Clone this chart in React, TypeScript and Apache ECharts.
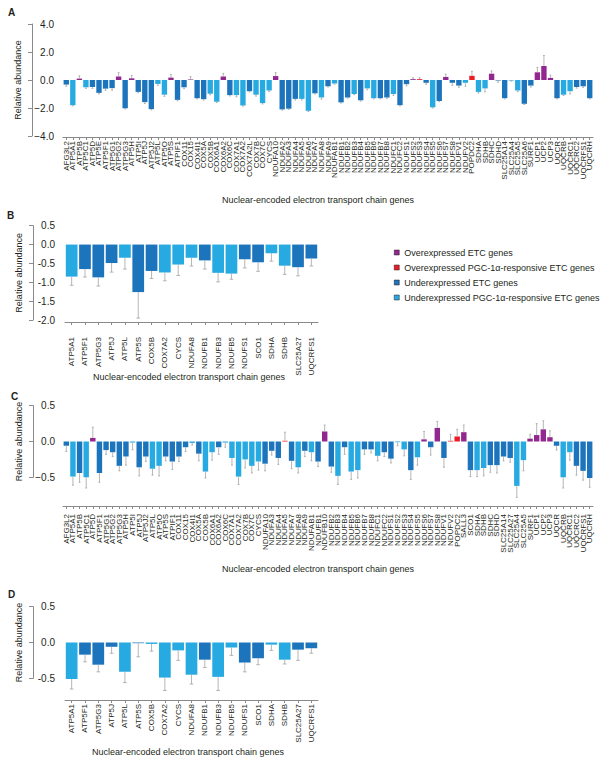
import React, { useEffect, useRef } from "react";
import * as echarts from "echarts";

const GROUP_KEYS = ["O", "R", "U", "P"];
const GROUP_NAMES: Record<string, string> = {
  O: "Overexpressed ETC genes",
  R: "Overexpressed PGC-1α-responsive ETC genes",
  U: "Underexpressed ETC genes",
  P: "Underexpressed PGC-1α-responsive ETC genes",
};
const GROUP_COLORS: Record<string, string> = {
  O: "#92278F",
  R: "#ED1C24",
  U: "#1C75BC",
  P: "#27AAE1",
};

// ---------- Panel A ----------
const catsA = [
  "AFG3L2", "ATP5A1", "ATP5B", "ATP5C1", "ATP5D", "ATP5E", "ATP5F1", "ATP5G1", "ATP5G2", "ATP5G3",
  "ATP5H", "ATP5I", "ATP5J", "ATP5J2", "ATP5L", "ATP5O", "ATP5S", "ATPIF1", "COX11", "COX15",
  "COX4I1", "COX5A", "COX5B", "COX6A1", "COX6A2", "COX6C", "COX7A1", "COX7A2", "COX7A2L", "COX7B",
  "COX7C", "CYCS", "NDUFA10", "NDUFA2", "NDUFA3", "NDUFA4", "NDUFA5", "NDUFA6", "NDUFA7", "NDUFA8",
  "NDUFA9", "NDUFAB1", "NDUFB1", "NDUFB2", "NDUFB3", "NDUFB4", "NDUFB5", "NDUFB6", "NDUFB7", "NDUFB8",
  "NDUFC1", "NDUFC2", "NDUFS1", "NDUFS2", "NDUFS3", "NDUFS4", "NDUFS5", "NDUFS6", "NDUFS7", "NDUFS8",
  "NDUFV1", "NDUFV2", "POPDC2", "SDHA", "SDHB", "SDHC", "SDHD", "SLC25A14", "SLC25A4", "SLC25A5",
  "SLC25A6", "SURF1", "UCP1", "UCP2", "UCP3", "UQCR", "UQCRB", "UQCRC1", "UQCRC2", "UQCRFS1", "UQCRH",
];
const valsA = [
  -0.33, -1.8, 0.1, -0.52, -0.5, -0.92, -0.62, -0.58, 0.25, -2.02,
  0.12, -0.85, -1.58, -2.08, -0.28, -1.05, 0.17, -1.42, -0.52, 0.04,
  -1.3, -1.37, -0.98, -1.55, 0.25, -1.08, -1.08, -1.82, -0.8, -1.05,
  -1.65, -0.75, 0.28, -2.1, -2.05, -1.35, -1.35, -2.2, -0.95, -1.25,
  -0.45, -0.25, -1.6, -1.25, -1.0, -1.45, -0.6, -1.3, -1.3, -1.25,
  -1.0, -1.8, -0.3, 0.06, 0.06, -0.2, -1.95, -1.5, 0.22, -0.2,
  -0.4, -0.2, 0.3, -0.85, -0.6, 0.45, -0.04, -1.3, -0.04, -0.75,
  -1.7, -0.4, 0.55, 1.0, 0.15, -1.3, -1.05, -0.8, -0.5, -0.45, -1.3,
];
const errsA = [
  0.12, 0.05, 0.2, 0.08, 0.1, 0.08, 0.12, 0.15, 0.28, 0.05,
  0.2, 0.06, 0.1, 0.05, 0.1, 0.12, 0.22, 0.06, 0.1, 0.2,
  0.05, 0.06, 0.08, 0.06, 0.22, 0.06, 0.12, 0.05, 0.05, 0.1,
  0.06, 0.08, 0.25, 0.05, 0.05, 0.08, 0.08, 0.05, 0.05, 0.12,
  0.05, 0.05, 0.05, 0.05, 0.05, 0.06, 0.1, 0.05, 0.05, 0.08,
  0.1, 0.05, 0.12, 0.1, 0.1, 0.1, 0.05, 0.05, 0.2, 0.18,
  0.12, 0.25, 0.32, 0.08, 0.25, 0.2, 0.12, 0.05, 0.04, 0.08,
  0.05, 0.1, 0.35, 0.75, 0.2, 0.05, 0.06, 0.2, 0.08, 0.08, 0.05,
];
const grpA = [
  "U", "P", "O", "P", "U", "U", "U", "U", "O", "U",
  "O", "U", "U", "U", "P", "P", "O", "U", "U", "O",
  "U", "U", "P", "P", "O", "U", "P", "P", "U", "P",
  "P", "P", "O", "U", "U", "U", "P", "P", "U", "P",
  "U", "P", "U", "U", "P", "U", "P", "P", "U", "U",
  "P", "U", "U", "O", "R", "U", "P", "U", "O", "U",
  "U", "P", "R", "P", "P", "O", "U", "U", "P", "P",
  "U", "U", "O", "O", "O", "U", "P", "P", "U", "U", "U",
];
const ticksA = [-4, -2, 0, 2, 4];

// ---------- Panel B ----------
const catsB = [
  "ATP5A1", "ATP5F1", "ATP5G3", "ATP5J", "ATP5L", "ATP5S", "COX5B", "COX7A2", "CYCS", "NDUFA8",
  "NDUFB1", "NDUFB3", "NDUFB5", "NDUFS1", "SCO1", "SDHA", "SDHB", "SLC25A27", "UQCRFS1",
];
const valsB = [
  -0.85, -0.65, -0.87, -0.49, -0.35, -1.26, -0.7, -0.74, -0.53, -0.35,
  -0.42, -0.75, -0.77, -0.39, -0.47, -0.23, -0.56, -0.6, -0.37,
];
const errsB = [
  0.23, 0.21, 0.23, 0.24, 0.3, 0.69, 0.2, 0.22, 0.29, 0.22,
  0.23, 0.24, 0.15, 0.23, 0.24, 0.21, 0.23, 0.23, 0.2,
];
const grpB = [
  "P", "U", "U", "U", "P", "U", "U", "P", "P", "P",
  "U", "P", "P", "U", "U", "P", "P", "U", "U",
];
const ticksB = [-2, -1.5, -1, -0.5, 0, 0.5];

// ---------- Panel C ----------
const catsC = [
  "AFG3L2", "ATP5A1", "ATP5B", "ATP5C1", "ATP5D", "ATP5F1", "ATP5G1", "ATP5G2", "ATP5G3", "ATP5H",
  "ATP5I", "ATP5J", "ATP5J2", "ATP5L", "ATP5O", "ATP5S", "ATPIF1", "COX11", "COX15", "COX4I1",
  "COX5A", "COX5B", "COX6A1", "COX6A2", "COX6C", "COX7A1", "COX7A2", "COX7B", "COX7C", "CYCS",
  "NDUFA10", "NDUFA3", "NDUFA4", "NDUFA5", "NDUFA7", "NDUFA8", "NDUFA9", "NDUFAB1", "NDUFB1", "NDUFB10",
  "NDUFB2", "NDUFB3", "NDUFB4", "NDUFB5", "NDUFB6", "NDUFB7", "NDUFB8", "NDUFC1", "NDUFC2", "NDUFS1",
  "NDUFS2", "NDUFS3", "NDUFS4", "NDUFS5", "NDUFS6", "NDUFS7", "NDUFS8", "NDUFV1", "NDUFV2", "POPDC2",
  "SALL3", "SCO1", "SDHA", "SDHB", "SDHC", "SDHD", "SLC25A14", "SLC25A27", "SLC25A4", "SLC25A5",
  "SURF1", "UCP1", "UCP2", "UCP3", "UQCR", "UQCRB", "UQCRC1", "UQCRC2", "UQCRFS1", "UQCRH",
];
const valsC = [
  -0.06, -0.49, -0.44, -0.5, 0.05, -0.44, -0.12, -0.15, -0.34, -0.21,
  -0.015, -0.36, -0.21, -0.38, -0.34, -0.21, -0.28, -0.21, -0.08, -0.02,
  -0.17, -0.42, -0.15, -0.08, -0.015, -0.23, -0.49, -0.25, -0.34, -0.28,
  -0.31, -0.13, -0.23, 0.01, -0.27, -0.36, -0.13, -0.15, -0.28, 0.14,
  -0.35, -0.48, -0.08, -0.42, -0.4, -0.11, -0.11, -0.2, -0.15, -0.24,
  -0.01, -0.11, -0.4, -0.22, 0.03, -0.08, 0.19, -0.23, 0.01, 0.07,
  0.13, -0.4, -0.4, -0.37, -0.33, -0.33, -0.21, -0.23, -0.62, -0.26,
  0.04, 0.09, 0.17, 0.06, -0.06, -0.5, -0.15, -0.34, -0.41, -0.51,
];
const errsC = [
  0.08, 0.12, 0.13, 0.15, 0.15, 0.13, 0.06, 0.06, 0.07, 0.12,
  0.1, 0.12, 0.07, 0.09, 0.14, 0.06, 0.11, 0.07, 0.06, 0.03,
  0.1, 0.09, 0.11, 0.1, 0.065, 0.1, 0.11, 0.12, 0.1, 0.12,
  0.1, 0.06, 0.09, 0.12, 0.11, 0.08, 0.08, 0.12, 0.07, 0.09,
  0.08, 0.12, 0.1, 0.11, 0.11, 0.07, 0.05, 0.07, 0.06, 0.06,
  0.05, 0.09, 0.13, 0.11, 0.11, 0.11, 0.09, 0.13, 0.09, 0.1,
  0.1, 0.09, 0.09, 0.11, 0.1, 0.11, 0.06, 0.06, 0.16, 0.15,
  0.06, 0.16, 0.12, 0.09, 0.06, 0.15, 0.11, 0.13, 0.13, 0.13,
];
const grpC = [
  "U", "P", "U", "P", "O", "U", "U", "U", "U", "U",
  "P", "U", "U", "P", "P", "U", "U", "U", "U", "P",
  "U", "P", "P", "U", "P", "P", "P", "P", "P", "P",
  "U", "U", "U", "R", "U", "P", "U", "P", "U", "O",
  "U", "P", "U", "P", "P", "U", "U", "P", "U", "U",
  "P", "P", "U", "P", "O", "U", "O", "U", "R", "R",
  "O", "U", "P", "P", "U", "U", "U", "U", "P", "P",
  "O", "O", "O", "O", "U", "P", "P", "U", "U", "U",
];
const ticksC = [-0.5, 0, 0.5];

// ---------- Panel D ----------
const catsD = catsB;
const valsD = [
  -0.51, -0.17, -0.31, -0.06, -0.41, -0.01, -0.02, -0.49, -0.11, -0.45,
  -0.24, -0.48, -0.07, -0.28, -0.22, -0.03, -0.24, -0.1, -0.08,
];
const errsD = [
  0.14, 0.1, 0.1, 0.09, 0.15, 0.19, 0.1, 0.18, 0.14, 0.13,
  0.11, 0.19, 0.11, 0.13, 0.09, 0.08, 0.06, 0.15, 0.07,
];
const grpD = [
  "P", "U", "U", "U", "P", "U", "P", "P", "P", "P",
  "U", "P", "P", "U", "U", "P", "P", "U", "U",
];
const ticksD = [-0.5, 0, 0.5];

const AXIS_NAME_X = "Nuclear-encoded electron transport chain genes";
const AXIS_NAME_Y = "Relative abundance";

const FONT = "'Liberation Sans', Arial, Helvetica, sans-serif";
const TEXT = "#231F20";
const AXIS = "#8a8a8a";
const ERR = "#a3a3a3";

type PanelCfg = {
  cats: string[];
  vals: number[];
  errs: number[];
  grps: string[];
  ticks: number[];
  grid: { left: number; right: number; top: number; height: number };
  yOffset: number;
  xOffset: number;
  labelMargin: number;
  labelSize: number;
  gap: string;
  unicodeMinus: boolean;
};

function buildPanel(idx: number, c: PanelCfg) {
  const grid = { ...c.grid, containLabel: false };
  const step = c.ticks[1] - c.ticks[0];
  const xAxis = {
    gridIndex: idx,
    type: "category",
    data: c.cats,
    position: "bottom",
    offset: c.xOffset,
    axisLine: { show: true, onZero: false, lineStyle: { color: AXIS, width: 1 } },
    axisTick: { show: true, alignWithLabel: true, interval: 0, length: 3, lineStyle: { color: AXIS, width: 1 } },
    axisLabel: {
      interval: 0,
      rotate: 90,
      fontSize: c.labelSize,
      margin: c.labelMargin,
      color: TEXT,
      fontFamily: FONT,
    },
    splitLine: { show: false },
  };
  const yAxis = {
    gridIndex: idx,
    type: "value",
    min: c.ticks[0],
    max: c.ticks[c.ticks.length - 1],
    interval: step,
    offset: c.yOffset,
    axisLine: { show: true, lineStyle: { color: AXIS, width: 1 } },
    axisTick: { show: true, inside: false, length: 4, lineStyle: { color: AXIS, width: 1 } },
    axisLabel: {
      inside: true,
      align: "right",
      margin: 22,
      fontSize: 10,
      color: TEXT,
      fontFamily: FONT,
      formatter: (v: number) => {
        const s = Math.abs(v).toFixed(1);
        if (v < 0) return (c.unicodeMinus ? "\u2212" : "-") + s;
        return s;
      },
    },
    splitLine: { show: false },
    name: AXIS_NAME_Y,
    nameLocation: "middle",
    nameGap: 10,
    nameTextStyle: { fontSize: 9, color: TEXT, fontFamily: FONT },
  };
  const series: any[] = GROUP_KEYS.map((g) => ({
    type: "bar",
    name: GROUP_NAMES[g],
    xAxisIndex: idx,
    yAxisIndex: idx,
    data: c.vals.map((v, i) => (c.grps[i] === g ? v : "-")),
    itemStyle: { color: GROUP_COLORS[g] },
    barGap: "-100%",
    barCategoryGap: c.gap,
    clip: false,
    silent: true,
  }));
  series.push({
    type: "custom",
    name: "err" + idx,
    xAxisIndex: idx,
    yAxisIndex: idx,
    clip: false,
    silent: true,
    z: 3,
    encode: { x: 0, y: 1 },
    data: c.vals.map((v, i) => [i, v, c.errs[i]]),
    renderItem: (params: any, api: any) => {
      const i = api.value(0);
      const v = api.value(1);
      const e = api.value(2);
      const end = v >= 0 ? v + e : v - e;
      const p0 = api.coord([i, v]);
      const p1 = api.coord([i, end]);
      const w = api.size([1, 0])[0] * 0.28;
      const st = { stroke: ERR, lineWidth: 0.8, fill: null };
      return {
        type: "group",
        children: [
          { type: "line", shape: { x1: p0[0], y1: p0[1], x2: p1[0], y2: p1[1] }, style: st },
          { type: "line", shape: { x1: p1[0] - w / 2, y1: p1[1], x2: p1[0] + w / 2, y2: p1[1] }, style: st },
        ],
      };
    },
  });
  return { grid, xAxis, yAxis, series };
}

export default function App() {
  const ref = useRef<HTMLDivElement>(null);
  useEffect(() => {
    document.body.style.margin = "0";
    if (!ref.current) return;
    const chart = echarts.init(ref.current, null, { renderer: "svg" });

    const panels: PanelCfg[] = [
      {
        cats: catsA, vals: valsA, errs: errsA, grps: grpA, ticks: ticksA,
        grid: { left: 63, right: 8, top: 24, height: 112 },
        yOffset: 31, xOffset: 1, labelMargin: 4, labelSize: 8, gap: "18%", unicodeMinus: true,
      },
      {
        cats: catsB, vals: valsB, errs: errsB, grps: grpB, ticks: ticksB,
        grid: { left: 65, right: 283, top: 225.7, height: 94.3 },
        yOffset: 32, xOffset: 2, labelMargin: 15, labelSize: 8, gap: "12%", unicodeMinus: false,
      },
      {
        cats: catsC, vals: valsC, errs: errsC, grps: grpC, ticks: ticksC,
        grid: { left: 63, right: 8, top: 405.7, height: 71.6 },
        yOffset: 30, xOffset: 28.7, labelMargin: 8, labelSize: 8, gap: "18%", unicodeMinus: true,
      },
      {
        cats: catsD, vals: valsD, errs: errsD, grps: grpD, ticks: ticksD,
        grid: { left: 65, right: 283, top: 606.7, height: 71.6 },
        yOffset: 32, xOffset: 21.7, labelMargin: 4, labelSize: 8, gap: "12%", unicodeMinus: false,
      },
    ];
    const built = panels.map((p, i) => buildPanel(i, p));

    const letter = (t: string, x: number, y: number) => ({
      type: "text",
      x,
      y,
      style: {
        text: t,
        font: `bold 10px ${FONT}`,
        fill: TEXT,
        textVerticalAlign: "middle",
      },
    });
    const xname = (x: number, y: number) => ({
      type: "text",
      x,
      y,
      style: {
        text: AXIS_NAME_X,
        font: `9px ${FONT}`,
        fill: TEXT,
        textAlign: "center",
        textVerticalAlign: "middle",
      },
    });

    chart.setOption({
      animation: false,
      backgroundColor: "#ffffff",
      textStyle: { fontFamily: FONT },
      grid: built.map((b) => b.grid),
      xAxis: built.map((b) => b.xAxis),
      yAxis: built.map((b) => b.yAxis),
      series: built.flatMap((b) => b.series),
      legend: {
        data: GROUP_KEYS.map((g) => GROUP_NAMES[g]),
        orient: "vertical",
        left: 389,
        top: 243,
        itemWidth: 5,
        itemHeight: 5,
        itemGap: 6,
        icon: "rect",
        selectedMode: false,
        itemStyle: { borderColor: TEXT, borderWidth: 0.5 },
        textStyle: { fontSize: 9, color: TEXT, fontFamily: FONT, padding: [0, 0, 0, 0] },
      },
      graphic: [
        letter("A", 8, 12),
        letter("B", 7, 215),
        letter("C", 11, 396.5),
        letter("D", 8, 594.5),
        xname(318, 199.5),
        xname(189, 376.5),
        xname(318, 569),
        xname(188, 752),
      ],
    });
    return () => chart.dispose();
  }, []);
  return <div ref={ref} style={{ width: 601, height: 766 }} />;
}
